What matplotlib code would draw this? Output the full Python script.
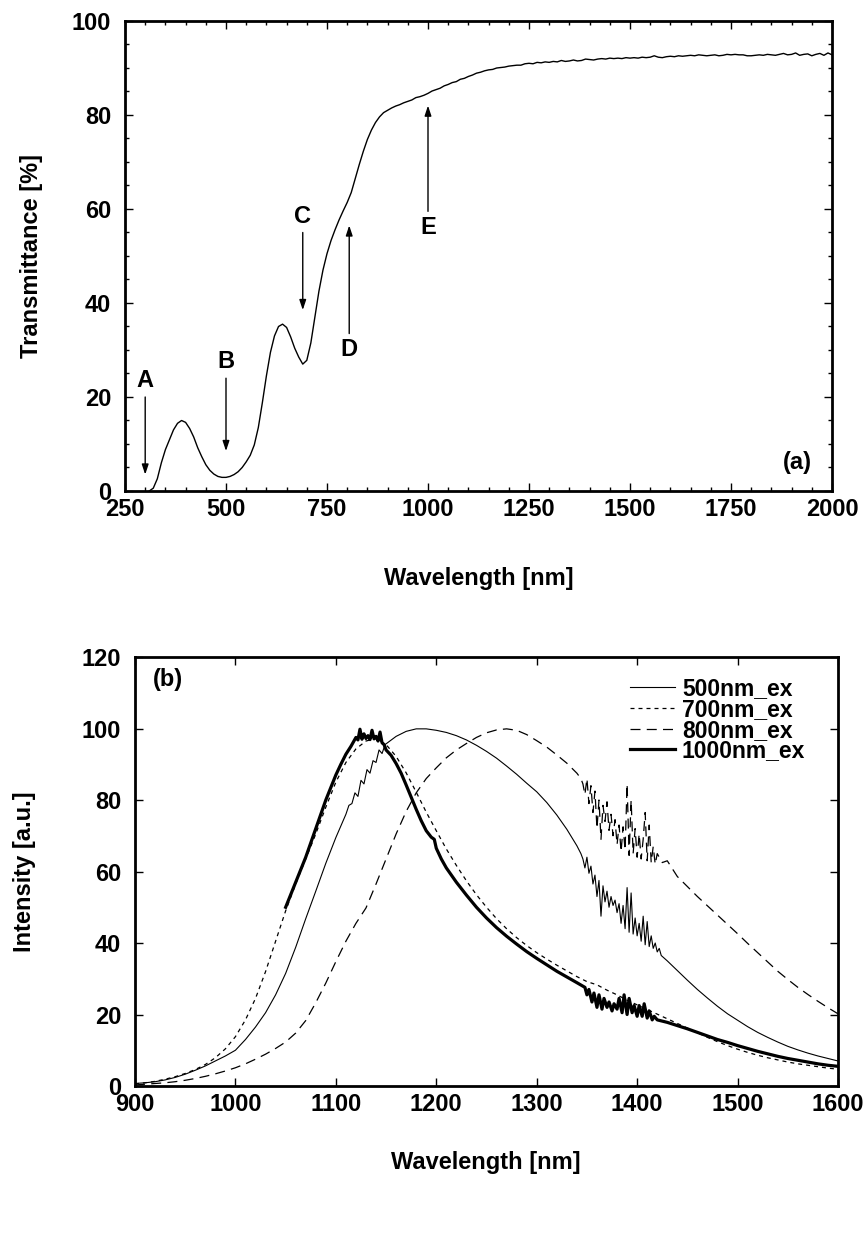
import numpy as np
import matplotlib
matplotlib.use('Agg')
import matplotlib.pyplot as plt

plt.rcParams['font.family'] = ['Liberation Sans', 'DejaVu Sans']
plt.rcParams['font.weight'] = 'bold'

# ---------------- (a) transmittance ----------------
wl_a = np.arange(310, 2001, 10)
trans_a = [
    0.0, 0.6, 2.6, 6.0, 8.8, 10.9, 13.0, 14.4, 15.0, 14.6,          # 310-400
    13.3, 11.5, 9.2, 7.3, 5.6, 4.4, 3.6, 3.1, 2.9, 2.9,             # 410-500
    3.1, 3.5, 4.1, 5.0, 6.2, 7.6, 9.8, 13.5, 18.8, 24.5,            # 510-600
    29.5, 33.0, 35.0, 35.5, 34.8, 32.8, 30.4, 28.5, 27.0, 27.8,     # 610-700
    31.5, 37.0, 42.5, 47.0, 50.5, 53.3, 55.6, 57.7, 59.6, 61.4,     # 710-800
    63.5, 66.5, 69.5, 72.3, 74.8, 76.8, 78.4, 79.6, 80.5, 81.0,     # 810-900
    81.5, 81.9, 82.2, 82.6, 82.9, 83.2, 83.7, 83.9, 84.2, 84.6,     # 910-1000
    85.1, 85.4, 85.7, 86.2, 86.5, 86.9, 87.1, 87.6, 87.8, 88.2,     # 1010-1100
    88.5, 88.9, 89.1, 89.4, 89.6, 89.7, 90.0, 90.1, 90.2, 90.4,     # 1110-1200
    90.5, 90.6, 90.6, 90.9, 91.0, 90.9, 91.2, 91.1, 91.3, 91.2,     # 1210-1300
    91.4, 91.3, 91.6, 91.4, 91.5, 91.7, 91.5, 91.6, 91.9, 91.8,     # 1310-1400
    91.7, 91.9, 92.0, 91.9, 92.1, 92.0, 92.1, 92.0, 92.2, 92.1,     # 1410-1500
    92.2, 92.1, 92.3, 92.2, 92.3, 92.6, 92.3, 92.2, 92.4, 92.5,     # 1510-1600
    92.4, 92.6, 92.5, 92.6, 92.7, 92.6, 92.8, 92.7, 92.6, 92.7,     # 1610-1700
    92.8, 92.6, 92.7, 92.9, 92.8, 92.9, 92.8, 92.8, 92.6, 92.6,     # 1710-1800
    92.7, 92.8, 92.7, 92.9, 92.8, 92.7, 92.9, 93.1, 92.8, 92.9,     # 1810-1900
    93.2, 92.7, 92.9, 93.0, 92.6, 92.9, 93.1, 92.7, 93.2, 92.8,     # 1910-2000
]

# arrow marks: label, wavelength, label y, arrow tail y, arrow head y
mark_labels = ['A', 'B', 'C', 'D', 'E']
mark_wl = [300, 500, 690, 805, 1000]
mark_text_y = [23.5, 27.5, 58.5, 30.0, 56.0]
mark_tail_y = [20.0, 24.0, 55.0, 33.5, 59.5]
mark_head_y = [3.5, 8.5, 38.5, 56.5, 82.0]

# ---------------- (b) photoluminescence ----------------
wl_500 = np.concatenate([np.arange(900, 1111, 10),
                         [1113, 1116, 1119, 1122, 1125, 1128, 1131, 1134, 1137, 1140, 1143, 1146, 1149],
                         np.arange(1160, 1341, 10),
                         np.arange(1344, 1425, 2),
                         np.arange(1430, 1601, 10)])
int_500 = [
    0.7, 0.9, 1.2, 1.7, 2.4, 3.3, 4.4, 5.6, 7.0, 8.4, 10.0, 13.0, 16.5, 20.5, 25.5, 31.5,
    38.8, 46.8, 54.5, 62.3, 69.5, 76.0,
    78.5, 79.0, 82.0, 81.0, 85.5, 84.5, 88.5, 87.5, 91.0, 90.5, 94.0, 93.0, 95.5,
    97.8, 99.2, 99.9, 99.9, 99.5, 98.9, 98.0, 96.8, 95.3, 93.6, 91.7, 89.5, 87.2, 84.7,
    82.3, 79.3, 75.8, 71.8, 67.2,
    65.0, 63.5, 61.0, 64.0, 59.5, 61.5, 56.5, 59.0, 53.0, 57.5, 47.5, 56.0, 51.5, 54.5,
    50.0, 53.0, 50.5, 52.0, 48.5, 51.0, 45.5, 50.5, 44.0, 55.5, 43.0, 54.0, 42.5, 47.0,
    42.0, 45.5, 40.5, 47.5, 39.5, 46.0, 39.0, 42.0, 38.5, 40.0, 37.5, 38.5, 36.5,
    35.0, 32.3, 29.6, 27.0, 24.6, 22.3, 20.2, 18.4, 16.6, 15.0, 13.6, 12.3, 11.1, 10.1,
    9.2, 8.4, 7.7, 7.0,
]

wl_700 = np.arange(900, 1601, 10)
int_700 = [
    0.6, 0.9, 1.3, 1.9, 2.6, 3.5, 4.6, 6.0, 7.9, 10.4,
    13.8, 18.5, 24.5, 32.0, 40.5, 49.0, 56.5, 63.5, 70.5, 78.0,
    85.0, 90.5, 94.3, 96.5, 97.2, 95.5, 92.2, 87.6, 82.2, 76.6,
    71.4, 66.3, 61.7, 57.4, 53.5, 50.0, 46.8, 44.0, 41.5, 39.3,
    37.3, 35.5, 33.8, 32.2, 30.6, 29.2, 28.3, 26.8, 25.5, 24.0,
    22.7, 21.4, 20.1, 18.8, 17.5, 16.2, 14.9, 13.6, 12.4, 11.3,
    10.3, 9.4, 8.6, 7.9, 7.3, 6.7, 6.2, 5.8, 5.4, 5.0, 4.7,
]

wl_800 = np.concatenate([np.arange(900, 1341, 10),
                         np.arange(1344, 1421, 2),
                         [1425, 1430, 1435],
                         np.arange(1440, 1601, 10)])
int_800 = [
    0.3, 0.5, 0.7, 0.9, 1.2, 1.6, 2.1, 2.7, 3.4, 4.2,
    5.1, 6.2, 7.5, 8.9, 10.5, 12.3, 14.8, 18.3, 23.3, 28.8,
    34.8, 40.5, 45.5, 49.8, 56.5, 63.5, 70.5, 76.8, 82.0, 86.0,
    89.0, 91.8, 94.0, 95.8, 97.5, 98.8, 99.6, 99.9, 99.5, 98.3,
    96.6, 94.8, 92.6, 90.3, 87.5,
    86.0, 84.5, 81.5, 86.0, 79.0, 84.0, 76.5, 82.5, 72.0, 80.0, 69.0, 78.5, 74.0,
    79.5, 71.5, 76.0, 70.0, 74.5, 67.5, 73.0, 65.5, 72.5, 66.0, 84.5, 64.5, 80.0,
    65.0, 72.0, 64.0, 70.5, 63.5, 69.0, 76.5, 63.0, 73.0, 62.5, 67.0, 62.0, 65.0,
    62.5, 63.0, 60.8,
    58.6, 55.8, 53.0, 50.4, 47.8, 45.2, 42.6, 39.9, 37.3, 34.7, 32.1, 29.8, 27.6,
    25.6, 23.7, 21.9, 20.2,
]

wl_1000 = np.concatenate([[1050, 1055, 1060, 1065, 1070, 1075, 1080, 1085, 1090, 1095,
                           1100, 1105, 1110, 1115, 1118],
                          np.arange(1120, 1151, 2),
                          [1155, 1160, 1165, 1170, 1175, 1180, 1185, 1190, 1195, 1198,
                           1200, 1205, 1210, 1220, 1230, 1240, 1250, 1260, 1270, 1280,
                           1290, 1300, 1310, 1320, 1330, 1340, 1348],
                          [1350, 1352, 1355, 1357, 1360, 1362, 1365, 1367, 1370, 1372,
                           1375, 1377, 1380, 1382, 1385, 1387, 1390, 1392, 1395, 1397,
                           1400, 1402, 1405, 1407, 1410, 1412, 1415, 1417],
                          np.arange(1420, 1601, 10)])
int_1000 = [
    50.0, 53.5, 57.0, 60.5, 64.0, 68.0, 72.0, 76.0, 80.0, 83.5, 87.0, 90.0, 92.8, 95.0, 96.5,
    97.5, 96.8, 99.8, 97.0, 98.5, 97.2, 98.0, 96.9, 99.5, 97.1, 97.8, 96.5, 99.0, 96.0, 95.5, 94.0,
    92.5, 90.2, 87.5, 84.2, 80.8, 77.4, 74.2, 71.4, 69.6, 69.0,
    66.5, 63.5, 61.0, 57.0, 53.4, 50.0, 47.0, 44.3, 41.9, 39.7,
    37.6, 35.7, 33.9, 32.1, 30.5, 28.9, 27.6,
    25.5, 27.0, 23.5, 26.0, 22.0, 25.5, 21.5, 24.5, 22.0, 23.5,
    21.0, 23.0, 21.5, 24.5, 20.5, 25.5, 20.0, 24.5, 20.5, 22.5,
    19.5, 22.5, 19.5, 23.0, 19.0, 21.0, 18.5, 19.5,
    18.5, 17.8, 16.9, 16.0, 15.0, 14.0, 13.0, 12.2, 11.3, 10.5,
    9.7, 9.0, 8.3, 7.7, 7.2, 6.7, 6.2, 5.8, 5.5,
]

series_b = [
    ('500nm_ex', wl_500, int_500),
    ('700nm_ex', wl_700, int_700),
    ('800nm_ex', wl_800, int_800),
    ('1000nm_ex', wl_1000, int_1000),
]
styles_b = {
    '500nm_ex': dict(lw=0.8, ls='-'),
    '700nm_ex': dict(lw=0.9, ls=(0, (3.2, 3.2))),
    '800nm_ex': dict(lw=0.9, ls=(0, (8, 5))),
    '1000nm_ex': dict(lw=2.3, ls='-'),
}

# ---------------- figure ----------------
fig = plt.figure(figsize=(8.68, 12.53), dpi=100)
W, H = 868, 1253


def px_axes(l, t, r, b):
    return fig.add_axes([l / W, 1 - b / H, (r - l) / W, (b - t) / H])


def style_axes(ax):
    for s in ax.spines.values():
        s.set_linewidth(2.0)
    ax.tick_params(which='both', direction='in', top=True, right=True,
                   labelsize=17, width=1.0)
    ax.tick_params(which='major', length=6)
    ax.tick_params(which='minor', length=3)
    for lab in ax.get_xticklabels() + ax.get_yticklabels():
        lab.set_fontweight('bold')


# (a)
ax1 = px_axes(125, 21, 832, 491)
ax1.plot(wl_a, trans_a, color='black', lw=1.0)
ax1.set_xlim(250, 2000)
ax1.set_ylim(0, 100)
ax1.set_xticks(np.arange(250, 2001, 250))
ax1.set_xticks(np.arange(250, 2001, 50), minor=True)
ax1.set_yticks(np.arange(0, 101, 20))
ax1.set_yticks(np.arange(0, 101, 5), minor=True)
style_axes(ax1)
ax1.tick_params(axis='x', pad=5)
ax1.tick_params(axis='y', pad=10)

for lab, x, ty, y0, y1 in zip(mark_labels, mark_wl, mark_text_y, mark_tail_y, mark_head_y):
    ax1.annotate('', xy=(x, y1), xytext=(x, y0),
                 arrowprops=dict(arrowstyle='-|>,head_length=0.6,head_width=0.2',
                                 color='black', lw=1.0, shrinkA=0, shrinkB=0))
    ax1.text(x, ty, lab, ha='center', va='center', fontsize=17, fontweight='bold')

ax1.text(1915, 6, '(a)', ha='center', va='center', fontsize=17, fontweight='bold')

fig.text(32 / W, 1 - 256 / H, 'Transmittance [%]', rotation=90, ha='center', va='center',
         fontsize=17, fontweight='bold')
fig.text(479 / W, 1 - 578 / H, 'Wavelength [nm]', ha='center', va='center',
         fontsize=17, fontweight='bold')

# (b)
ax2 = px_axes(135, 657, 838, 1086)
for name, wl, val in series_b:
    ax2.plot(wl, val, color='black', label=name, **styles_b[name])
ax2.set_xlim(900, 1600)
ax2.set_ylim(0, 120)
ax2.set_xticks(np.arange(900, 1601, 100))
ax2.set_yticks(np.arange(0, 121, 20))
style_axes(ax2)
ax2.tick_params(axis='x', pad=5)
ax2.tick_params(axis='y', pad=10)

ax2.text(933, 113.8, '(b)', ha='center', va='center', fontsize=17, fontweight='bold')

leg = ax2.legend(loc='upper left', bbox_to_anchor=(0.704, 0.953), frameon=False,
                 prop=dict(size=16.5, weight='bold'), handlelength=1.97,
                 handletextpad=0.3, labelspacing=-0.1, borderpad=0, borderaxespad=0)

fig.text(25 / W, 1 - 872 / H, 'Intensity [a.u.]', rotation=90, ha='center', va='center',
         fontsize=17, fontweight='bold')
fig.text(486 / W, 1 - 1163 / H, 'Wavelength [nm]', ha='center', va='center',
         fontsize=17, fontweight='bold')

fig.savefig('out.png', dpi=100)
